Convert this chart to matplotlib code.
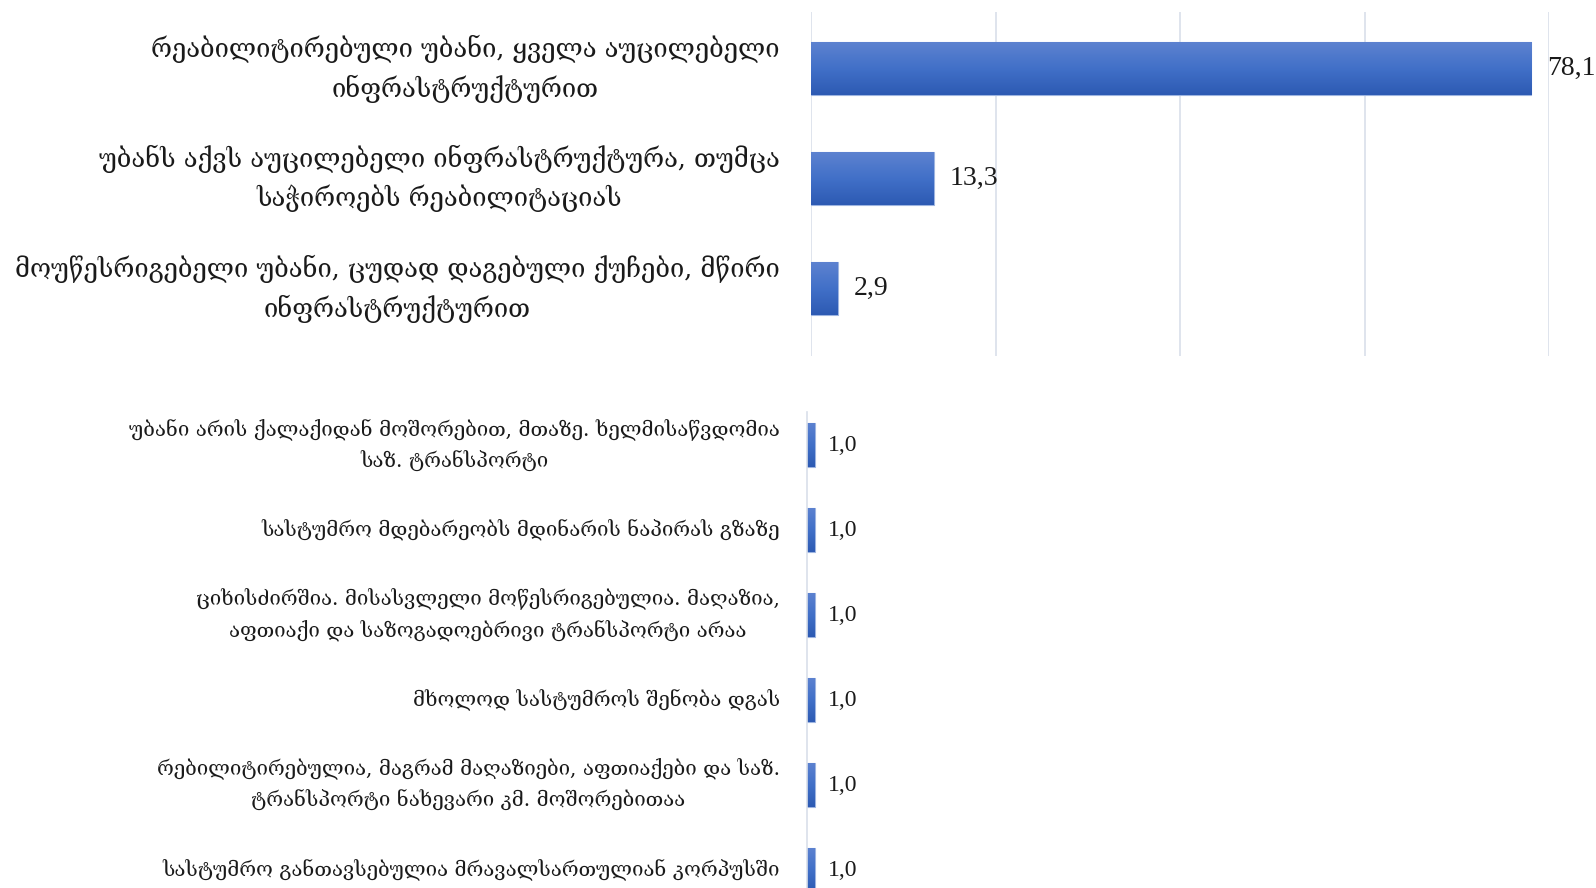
import numpy as np
import matplotlib.pyplot as plt
from matplotlib.colors import LinearSegmentedColormap

# ზედა დიაგრამა: უბნის მდგომარეობა (%)
top_labels = [
    'რეაბილიტირებული უბანი, ყველა აუცილებელი\nინფრასტრუქტურით',
    'უბანს აქვს აუცილებელი ინფრასტრუქტურა, თუმცა\nსაჭიროებს რეაბილიტაციას',
    'მოუწესრიგებელი უბანი, ცუდად დაგებული ქუჩები, მწირი\nინფრასტრუქტურით',
]
top_values = [78.1, 13.3, 2.9]

# ქვედა დიაგრამა: სხვა პასუხები (%)
bottom_labels = [
    'უბანი არის ქალაქიდან მოშორებით, მთაზე. ხელმისაწვდომია\nსაზ. ტრანსპორტი',
    'სასტუმრო მდებარეობს მდინარის ნაპირას გზაზე',
    'ციხისძირშია. მისასვლელი მოწესრიგებულია. მაღაზია,\nაფთიაქი და საზოგადოებრივი ტრანსპორტი არაა',
    'მხოლოდ სასტუმროს შენობა დგას',
    'რებილიტირებულია, მაგრამ მაღაზიები, აფთიაქები და საზ.\nტრანსპორტი ნახევარი კმ. მოშორებითაა',
    'სასტუმრო განთავსებულია მრავალსართულიან კორპუსში',
]
bottom_values = [1.0, 1.0, 1.0, 1.0, 1.0, 1.0]

grad = LinearSegmentedColormap.from_list('g', ['#2d5ab3', '#4170c8', '#5d82d0'])
text_col = '#1a1a1a'
geo_font = ['DejaVu Serif', 'DejaVu Sans']


def gradient_bars(ax, values, height):
    bars = ax.barh(range(len(values)), values, height=height, color='#4472c4',
                   edgecolor='#9db4e0', linewidth=0.8, zorder=2)
    g = np.linspace(0, 1, 100).reshape(-1, 1)
    for b in bars:
        x0, y0 = b.get_x(), b.get_y()
        w, h = b.get_width(), b.get_height()
        im = ax.imshow(g, cmap=grad, aspect='auto', origin='lower',
                       extent=(x0, x0 + w, y0 + h, y0), zorder=2.5)
        im.set_clip_path(b)
    return bars


fig = plt.figure(figsize=(15.96, 8.88), dpi=100)

# ზედა
ax1 = fig.add_axes([811 / 1596, 1 - 356 / 888, 738 / 1596, 344 / 888])
gradient_bars(ax1, top_values, 0.48)
ax1.set_xlim(0, 80)
ax1.set_ylim(2.614, -0.514)
ax1.set_xticks([0, 20, 40, 60, 80])
ax1.grid(axis='x', color='#d9dfea', linewidth=1.2, zorder=0)
ax1.tick_params(left=False, bottom=False, labelbottom=False)
ax1.set_yticks(range(len(top_labels)))
ax1.set_yticklabels(top_labels, fontsize=18.4, color=text_col, family=geo_font,
                    ha='right', va='center', multialignment='center',
                    linespacing=1.52)
ax1.tick_params(axis='y', pad=19)
for s in ax1.spines.values():
    s.set_visible(False)
for i, v in enumerate(top_values):
    ax1.text(v + 1.7, i, f'{v:.1f}'.replace('.', ','), va='center', ha='left',
             fontsize=20, color=text_col, family='Liberation Serif', clip_on=False)

# ქვედა
ax2 = fig.add_axes([807 / 1596, 0, 750 / 1596, 1 - 412 / 888])
gradient_bars(ax2, bottom_values, 0.52)
ax2.set_xlim(0, 100)
ax2.set_ylim(5.21, -0.39)
ax2.set_xticks([])
ax2.tick_params(left=False, bottom=False)
ax2.set_yticks(range(len(bottom_labels)))
ax2.set_yticklabels(bottom_labels, fontsize=14.7, color=text_col, family=geo_font,
                    ha='right', va='center', multialignment='center',
                    linespacing=1.58)
ax2.tick_params(axis='y', pad=16)
for s in ['top', 'right', 'bottom']:
    ax2.spines[s].set_visible(False)
ax2.spines['left'].set_color('#d9dfea')
ax2.spines['left'].set_linewidth(1.2)
for i, v in enumerate(bottom_values):
    ax2.text(v + 1.8, i, f'{v:.1f}'.replace('.', ','), va='center', ha='left',
             fontsize=17, color=text_col, family='Liberation Serif')

fig.savefig('out.png', dpi=100)
